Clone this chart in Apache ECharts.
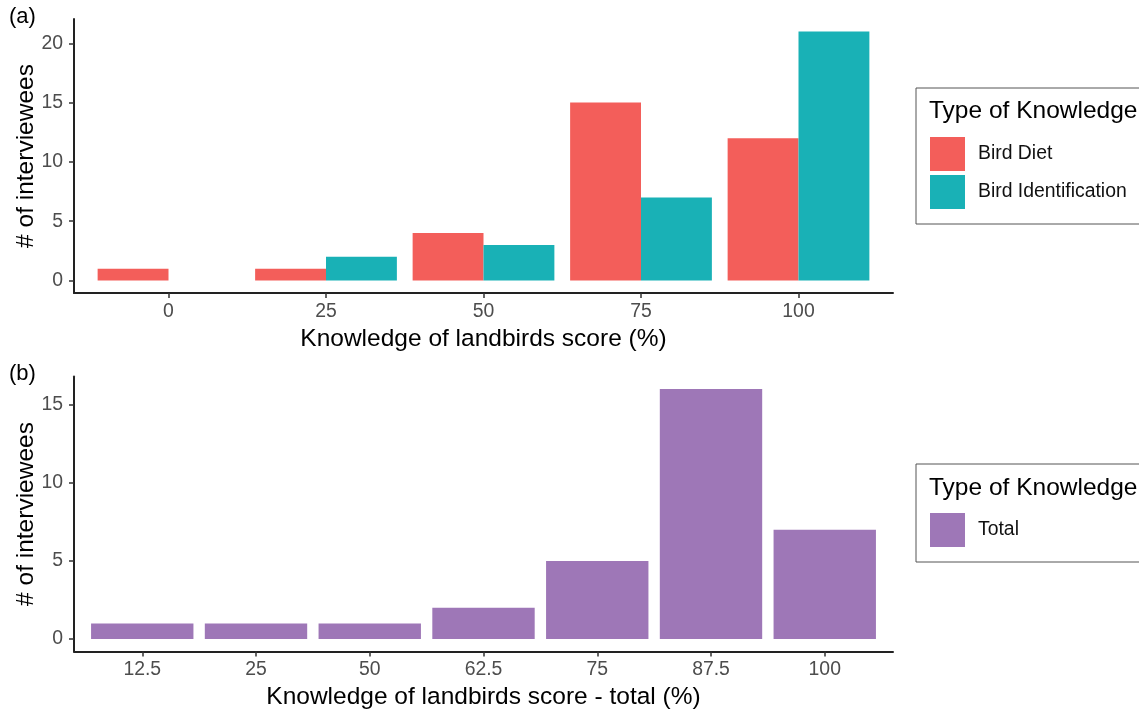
<!DOCTYPE html>
<html>
<head>
<meta charset="utf-8">
<script src="https://cdn.jsdelivr.net/npm/echarts@6/dist/echarts.min.js"></script>
<style>
  html, body { margin: 0; padding: 0; background: #ffffff; }
  #chart { width: 1139px; height: 709px; }
</style>
</head>
<body>
<div id="chart"></div>
<script>
// Panel (a): knowledge scores by type
const topCategories = ['0', '25', '50', '75', '100'];
const birdDiet = [1, 1, 4, 15, 12];
const birdIdentification = [0, 2, 3, 7, 21];
const topTicks = [0, 5, 10, 15, 20];

// Panel (b): total knowledge score
const bottomCategories = ['12.5', '25', '50', '62.5', '75', '87.5', '100'];
const totalScores = [1, 1, 1, 2, 5, 16, 7];
const bottomTicks = [0, 5, 10, 15];

const FONT = '"Liberation Sans", Arial, Helvetica, sans-serif';
const RED = '#F35E5A';
const TEAL = '#19B1B6';
const PURPLE = '#9E77B7';
const TITLE_SIZE = 24.5;
const TEXT_SIZE = 19.4;

function indexPositions(n) { return Array.from({ length: n }, (_, i) => i); }

function xAxisFor(cats, gridIndex, name, nameGap) {
  const idx = indexPositions(cats.length);
  return {
    type: 'value', gridIndex,
    min: -0.6, max: cats.length - 1 + 0.6,
    name, nameLocation: 'middle', nameGap, nameMoveOverlap: false,
    nameTextStyle: { fontFamily: FONT, fontSize: TITLE_SIZE, color: '#000' },
    axisLine: { show: true, onZero: false, lineStyle: { color: '#222', width: 2 } },
    axisTick: { show: true, length: 5, customValues: idx, lineStyle: { color: '#333', width: 1.5 } },
    axisLabel: { customValues: idx, margin: 9, fontFamily: FONT, fontSize: TEXT_SIZE, color: '#4D4D4D',
                 formatter: v => cats[Math.round(v)] },
    splitLine: { show: false }
  };
}

function yAxisFor(ticks, gridIndex, min, max) {
  return {
    type: 'value', gridIndex, min, max,
    name: '# of interviewees', nameLocation: 'middle', nameGap: 35, nameMoveOverlap: false,
    nameTextStyle: { fontFamily: FONT, fontSize: TITLE_SIZE, color: '#000' },
    axisLine: { show: true, onZero: false, lineStyle: { color: '#222', width: 2 } },
    axisTick: { show: true, length: 5, customValues: ticks, lineStyle: { color: '#333', width: 1.5 } },
    axisLabel: { customValues: ticks, margin: 11, fontFamily: FONT, fontSize: TEXT_SIZE, color: '#4D4D4D' },
    splitLine: { show: false }
  };
}

function legendTitle(top) {
  return { text: 'Type of Knowledge', left: 929, top, padding: 0,
           textStyle: { fontFamily: FONT, fontSize: TITLE_SIZE, fontWeight: 'normal', color: '#000' } };
}

function legendBox(names, top, rightPad) {
  return {
    data: names, orient: 'vertical', left: 916, top,
    padding: [49, rightPad, 15, 14],
    borderColor: '#555', borderWidth: 1,
    itemWidth: 35, itemHeight: 34, itemGap: 4,
    icon: 'rect', selectedMode: false,
    textStyle: { fontFamily: FONT, fontSize: TEXT_SIZE, color: '#111', padding: [0, 0, 0, 8] }
  };
}

const chart = echarts.init(document.getElementById('chart'), null, { renderer: 'canvas' });

chart.setOption({
  backgroundColor: '#ffffff',
  animation: false,
  title: [
    { text: '(a)', left: 9, top: 6, padding: 0, textStyle: { fontFamily: FONT, fontSize: 22, fontWeight: 'normal', color: '#000' } },
    { text: '(b)', left: 9, top: 363, padding: 0, textStyle: { fontFamily: FONT, fontSize: 22, fontWeight: 'normal', color: '#000' } },
    legendTitle(99),
    legendTitle(476)
  ],
  legend: [
    legendBox(['Bird Diet', 'Bird Identification'], 88, 40),
    legendBox(['Total'], 464, 160)
  ],
  grid: [
    { left: 74, right: 246, top: 19, bottom: 416, outerBoundsMode: 'none', containLabel: false },
    { left: 74, right: 246, top: 376.5, bottom: 57.5, outerBoundsMode: 'none', containLabel: false }
  ],
  xAxis: [
    xAxisFor(topCategories, 0, 'Knowledge of landbirds score (%)', 34),
    xAxisFor(bottomCategories, 1, 'Knowledge of landbirds score - total (%)', 33)
  ],
  yAxis: [
    yAxisFor(topTicks, 0, -1.05, 22.05),
    yAxisFor(bottomTicks, 1, -0.8, 16.8)
  ],
  series: [
    { name: 'Bird Diet', type: 'bar', xAxisIndex: 0, yAxisIndex: 0,
      barWidth: '45%', barGap: '0%', itemStyle: { color: RED },
      data: birdDiet.map((v, i) => [i, v]) },
    { name: 'Bird Identification', type: 'bar', xAxisIndex: 0, yAxisIndex: 0,
      barWidth: '45%', barGap: '0%', itemStyle: { color: TEAL },
      data: birdIdentification.map((v, i) => [i, v]) },
    { name: 'Total', type: 'bar', xAxisIndex: 1, yAxisIndex: 1,
      barWidth: '90%', itemStyle: { color: PURPLE },
      data: totalScores.map((v, i) => [i, v]) }
  ]
});
</script>
</body>
</html>
